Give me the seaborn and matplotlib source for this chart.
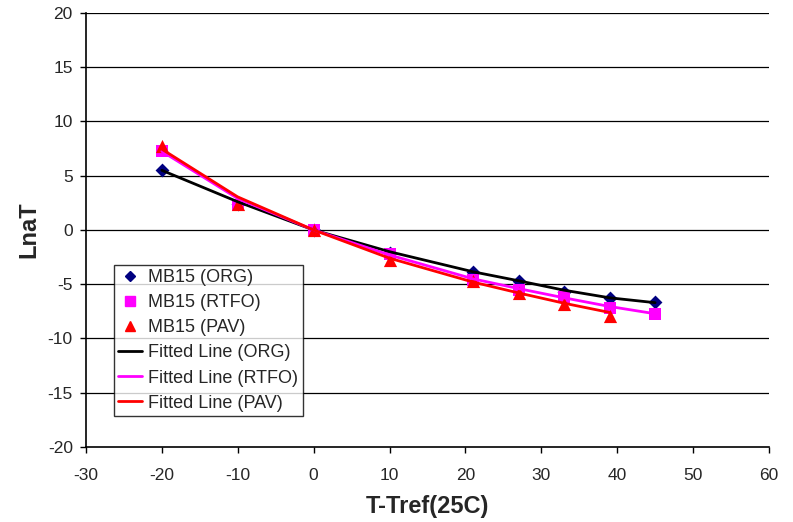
import matplotlib
matplotlib.use("Agg")
import matplotlib.pyplot as plt
from matplotlib.lines import Line2D
import seaborn as sns

sns.set_theme(style="white")
plt.rcParams["font.family"] = ["Liberation Sans", "DejaVu Sans"]
plt.rcParams["axes.unicode_minus"] = False

# Temperature offsets from the 25C reference
temp_shift = [-20, -10, 0, 10, 21, 27, 33, 39, 45]

# Measured shift factors
org_pts = [5.55, 2.35, 0.0, -2.15, -3.87, -4.70, -5.75, -6.30, -6.65]
rtfo_pts = [7.30, 2.30, 0.0, -2.25, -4.60, -5.50, -6.20, -7.20, -7.70]
pav_x = [-20, -10, 0, 10, 21, 27, 33, 39]
pav_pts = [7.70, 2.35, 0.0, -2.80, -4.70, -5.80, -6.80, -7.90]

# Fitted curves evaluated at the same offsets
org_fit = [5.50, 2.60, 0.0, -2.00, -3.85, -4.68, -5.55, -6.25, -6.70]
rtfo_fit = [7.25, 2.90, 0.0, -2.30, -4.50, -5.40, -6.25, -7.05, -7.72]
pav_fit = [7.45, 3.05, 0.0, -2.60, -4.80, -5.80, -6.75, -7.60]

series_colors = {"ORG": "#000080", "RTFO": "#FF00FF", "PAV": "#FF0000"}
line_colors = {"ORG": "#000000", "RTFO": "#FF00FF", "PAV": "#FF0000"}

fig = plt.figure(figsize=(7.93, 5.22), dpi=100)
ax = fig.add_axes([0.1084, 0.1437, 0.8613, 0.8314])

# Gridlines behind everything
for yv in range(-15, 25, 5):
    ax.axhline(yv, color="black", lw=0.9, zorder=0)

sns.scatterplot(x=temp_shift, y=org_pts, marker="D", s=50, color=series_colors["ORG"],
                edgecolor=series_colors["ORG"], linewidth=0, ax=ax, zorder=3)
sns.scatterplot(x=temp_shift, y=rtfo_pts, marker="s", s=80, color=series_colors["RTFO"],
                edgecolor=series_colors["RTFO"], linewidth=0, ax=ax, zorder=3)
sns.scatterplot(x=pav_x, y=pav_pts, marker="^", s=90, color=series_colors["PAV"],
                edgecolor=series_colors["PAV"], linewidth=0, ax=ax, zorder=3)

sns.lineplot(x=temp_shift, y=org_fit, color=line_colors["ORG"], lw=2, ax=ax, zorder=4)
sns.lineplot(x=temp_shift, y=rtfo_fit, color=line_colors["RTFO"], lw=2, ax=ax, zorder=4)
sns.lineplot(x=pav_x, y=pav_fit, color=line_colors["PAV"], lw=2, ax=ax, zorder=4)

ax.set_xlim(-30, 60)
ax.set_ylim(-20, 20)
ax.set_xticks(range(-30, 70, 10))
ax.set_yticks(range(-20, 25, 5))
ax.tick_params(axis="both", direction="out", length=4, width=1, color="black",
               labelsize=12.5, bottom=True, left=True)
ax.tick_params(axis="x", pad=11)
ax.tick_params(axis="y", pad=5.5)

for side in ["top", "right"]:
    ax.spines[side].set_visible(False)
for side in ["left", "bottom"]:
    ax.spines[side].set_color("black")
    ax.spines[side].set_linewidth(1.2)

ax.set_xlabel("T-Tref(25C)", fontsize=17, fontweight="bold", labelpad=8.5)
ax.set_ylabel("LnaT", fontsize=17, fontweight="bold", labelpad=5.5)

handles = [
    Line2D([], [], ls="none", marker="D", ms=5.5, color=series_colors["ORG"], mec=series_colors["ORG"]),
    Line2D([], [], ls="none", marker="s", ms=6.5, color=series_colors["RTFO"], mec=series_colors["RTFO"]),
    Line2D([], [], ls="none", marker="^", ms=7.5, color=series_colors["PAV"], mec=series_colors["PAV"]),
    Line2D([], [], color=line_colors["ORG"], lw=2),
    Line2D([], [], color=line_colors["RTFO"], lw=2),
    Line2D([], [], color=line_colors["PAV"], lw=2),
]
labels = ["MB15 (ORG)", "MB15 (RTFO)", "MB15 (PAV)",
          "Fitted Line (ORG)", "Fitted Line (RTFO)", "Fitted Line (PAV)"]
leg = ax.legend(handles, labels, loc="lower left", bbox_to_anchor=(0.041, 0.071),
                frameon=True, fancybox=False, fontsize=13, handlelength=1.3,
                handletextpad=0.35, labelspacing=0.45, borderpad=0.25,
                borderaxespad=0)
leg.get_frame().set_edgecolor("black")
leg.get_frame().set_linewidth(1)
leg.set_zorder(5)

fig.savefig("out.png", dpi=100)
